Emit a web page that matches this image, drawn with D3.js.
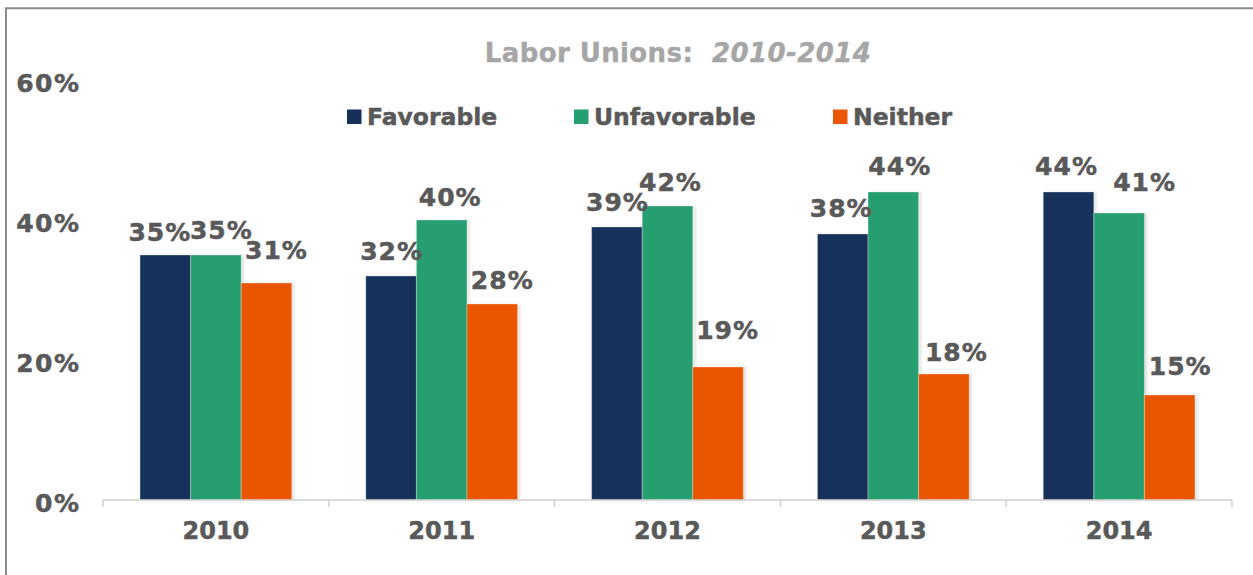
<!DOCTYPE html>
<html>
<head>
<meta charset="utf-8">
<script src="https://cdn.jsdelivr.net/npm/d3@7"></script>
<style>
  html, body { margin: 0; padding: 0; background: #fff; }
  svg { display: block; font-family: "DejaVu Sans", Verdana, sans-serif; }
</style>
</head>
<body>
<svg id="chart" width="1253" height="575"></svg>
<script>
// Survey results: opinion of labor unions by year (percent)
const years = ["2010", "2011", "2012", "2013", "2014"];
const seriesNames = ["Favorable", "Unfavorable", "Neither"];
const favorable = [35, 32, 39, 38, 44];
const unfavorable = [35, 40, 42, 44, 41];
const neither = [31, 28, 19, 18, 15];
const yTicks = [0, 20, 40, 60];

const seriesValues = [favorable, unfavorable, neither];
const colors = ["#16305a", "#279e70", "#ea5506"];

// Hand-placed label nudges [dx, dy] so neighbouring labels don't collide
const labelNudge = {
  "2010": [[-6, 1], [5, -1], [9.5, -9]],
  "2011": [[0, -1.5], [8, 1], [9.5, 0]],
  "2012": [[0, -1], [2.5, 0], [9, -13]],
  "2013": [[-2, -2], [6, -2], [12, 2]],
  "2014": [[-2.5, -2], [25, -7.5], [10, -5.5]]
};

const svg = d3.select("#chart");
const textColor = "#595959";

// Heavier strokes on text, closer to the chunky bold face of the chart
function heavy(sel, w) {
  sel.attr("stroke", function() { return d3.select(this).attr("fill"); })
     .attr("stroke-width", w)
     .attr("paint-order", "stroke");
}

// Frame lines along the left and top edges
svg.append("path")
  .attr("d", "M6,575 V8.3 H1253")
  .attr("fill", "none")
  .attr("stroke", "#8c8c8c")
  .attr("stroke-width", 2);

const defs = svg.append("defs");
const shadow = defs.append("filter").attr("id", "barShadow")
  .attr("x", "-10%").attr("y", "-10%").attr("width", "130%").attr("height", "120%");
shadow.append("feDropShadow")
  .attr("dx", 2).attr("dy", 0).attr("stdDeviation", 1.5)
  .attr("flood-color", "#000").attr("flood-opacity", 0.15);

const x0 = d3.scaleBand().domain(years).range([103, 1232]).padding(0);
const bw = x0.bandwidth();
const x1 = d3.scaleBand().domain(seriesNames).range([bw * 0.164, bw * 0.836]).padding(0);
const y = d3.scaleLinear().domain([0, 60]).range([500, 80]);

// Title
const title = svg.append("text")
  .attr("x", 678).attr("y", 62)
  .attr("text-anchor", "middle")
  .attr("fill", "#a6a6a6")
  .attr("font-weight", "bold")
  .attr("font-size", 26)
  .attr("letter-spacing", 0.4)
  .attr("xml:space", "preserve");
title.append("tspan").text("Labor Unions:  ");
title.append("tspan").attr("font-style", "italic").text("2010-2014");
heavy(title, 0.4);

// Y axis labels (no axis line)
const yAxis = d3.axisLeft(y).tickValues(yTicks).tickFormat(d => d + "%").tickSize(0).tickPadding(0);
const yG = svg.append("g").attr("transform", "translate(80.5,0)").call(yAxis);
yG.select(".domain").remove();
yG.selectAll("text")
  .attr("fill", textColor)
  .attr("font-size", 25)
  .attr("font-weight", "bold")
  .attr("letter-spacing", 1.5)
  .attr("font-family", "DejaVu Sans, Verdana, sans-serif")
  .attr("dy", "0.36em")
  .attr("y", 2)
  .call(heavy, 0.5);

// Legend
const legendX = [347, 574, 833];
const legend = svg.append("g");
seriesNames.forEach((name, i) => {
  legend.append("rect")
    .attr("x", legendX[i]).attr("y", 109.5)
    .attr("width", 14.5).attr("height", 14.5)
    .attr("fill", colors[i]);
  legend.append("text")
    .attr("x", legendX[i] + 20).attr("y", 125)
    .attr("fill", textColor)
    .attr("font-size", 23.5)
    .attr("font-weight", "bold")
    .text(name)
    .call(heavy, 0.5);
});

// Bars
const groups = svg.append("g").selectAll("g")
  .data(years)
  .join("g")
  .attr("transform", d => `translate(${x0(d)},0)`);

groups.each(function(year, yi) {
  const g = d3.select(this);
  seriesNames.forEach((name, si) => {
    const v = seriesValues[si][yi];
    g.append("rect")
      .attr("x", x1(name))
      .attr("y", y(v))
      .attr("width", x1.bandwidth())
      .attr("height", y(0) - y(v))
      .attr("fill", colors[si])
      .attr("stroke", "rgba(255,255,255,0.3)")
      .attr("stroke-width", 1)
      .attr("filter", "url(#barShadow)");
  });
});

// Value labels
groups.each(function(year, yi) {
  const g = d3.select(this);
  seriesNames.forEach((name, si) => {
    const v = seriesValues[si][yi];
    const [dx, dy] = labelNudge[year][si];
    g.append("text")
      .attr("x", x1(name) + x1.bandwidth() / 2 + dx + 0.5)
      .attr("y", y(v) - 15 + dy)
      .attr("text-anchor", "middle")
      .attr("fill", textColor)
      .attr("font-size", 25)
      .attr("font-weight", "bold")
      .attr("letter-spacing", 1)
      .text(v + "%")
      .call(heavy, 0.5);
  });
});

// X axis: baseline with category separators
const xAxis = d3.axisBottom(x0).tickSize(0).tickPadding(22);
const xG = svg.append("g").attr("transform", "translate(0,500)").call(xAxis);
xG.select(".domain").attr("stroke", "#d0d0d0").attr("stroke-width", 1.5)
  .attr("d", "M103,0H1232");
xG.selectAll("text")
  .attr("fill", textColor)
  .attr("font-size", 24)
  .attr("font-weight", "bold")
  .attr("font-family", "DejaVu Sans, Verdana, sans-serif")
  .attr("dy", "0.71em")
  .attr("y", 22)
  .call(heavy, 0.5);
const bounds = years.map(d => x0(d)).concat([x0(years[years.length - 1]) + bw]);
xG.selectAll("line.sep")
  .data(bounds)
  .join("line")
  .attr("class", "sep")
  .attr("x1", d => d).attr("x2", d => d)
  .attr("y1", 0).attr("y2", 7)
  .attr("stroke", "#d0d0d0")
  .attr("stroke-width", 1.5);
</script>
</body>
</html>
